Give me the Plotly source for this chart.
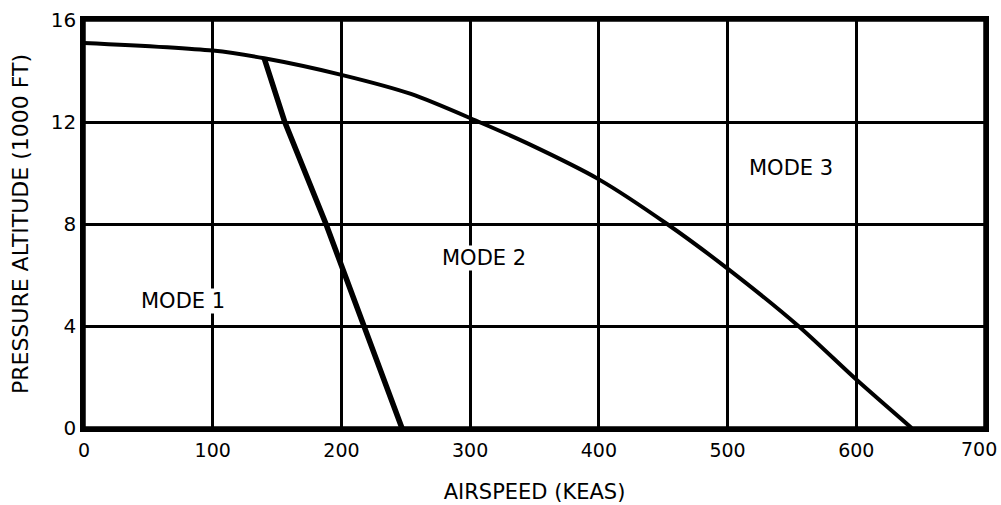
import plotly.graph_objects as go

# Mode 2/3 boundary (upper curve)
boundary23_speed = [0, 100, 140, 200, 254, 307, 345, 400, 453, 500, 555, 600, 643]
boundary23_alt = [15.1, 14.8, 14.5, 13.85, 13.1, 12.0, 11.15, 9.75, 8.0, 6.25, 4.0, 1.9, 0.0]

# Mode 1/2 boundary (steep line)
boundary12_speed = [140, 156, 188, 218, 247]
boundary12_alt = [14.5, 12.0, 8.0, 4.0, 0.0]

mode_labels = ["MODE 1", "MODE 2", "MODE 3"]
mode_x = [77, 311, 549]
mode_y = [5.0, 6.67, 10.2]

x_ticks = [0, 100, 200, 300, 400, 500, 600, 700]
y_ticks = [0, 4, 8, 12, 16]

font = "DejaVu Sans, Verdana, sans-serif"

fig = go.Figure()
fig.add_trace(go.Scatter(x=boundary23_speed, y=boundary23_alt, mode="lines",
                         line=dict(color="black", width=4, shape="spline", smoothing=0.8),
                         showlegend=False, hoverinfo="skip"))
fig.add_trace(go.Scatter(x=boundary12_speed, y=boundary12_alt, mode="lines",
                         line=dict(color="black", width=5.5, shape="linear"),
                         showlegend=False, hoverinfo="skip"))

for t, x, y in zip(mode_labels, mode_x, mode_y):
    fig.add_annotation(x=x, y=y, text=t, showarrow=False,
                       font=dict(family=font, size=21, color="black"),
                       bgcolor="white", borderpad=0)

# last x tick label sits flush with the right edge (as in the original)
x_ticktext = [str(v) for v in x_ticks[:-1]] + [""]
fig.add_annotation(x=x_ticks[-1], y=0, text=str(x_ticks[-1]), showarrow=False,
                   xanchor="right", yanchor="middle", xshift=14, yshift=-21,
                   font=dict(family=font, size=19, color="black"))

# plot frame
fig.add_shape(type="rect", xref="paper", yref="paper", x0=0, y0=0, x1=1, y1=1,
              line=dict(color="black", width=3.5), layer="above")

fig.update_xaxes(range=[0, 700], tickvals=x_ticks, ticktext=x_ticktext,
                 showgrid=True, gridcolor="black", gridwidth=2.5,
                 showline=True, linecolor="black", linewidth=3.5, mirror=True,
                 zeroline=False, ticks="", ticklen=0, ticklabelstandoff=2,
                 ticklabeloverflow="allow",
                 automargin=False,
                 tickfont=dict(family=font, size=19, color="black"),
                 title=dict(text="AIRSPEED (KEAS)", font=dict(family=font, size=21, color="black"),
                            standoff=26))
fig.update_yaxes(range=[0, 16], tickvals=y_ticks, ticktext=[str(v) for v in y_ticks],
                 showgrid=True, gridcolor="black", gridwidth=2.5,
                 showline=True, linecolor="black", linewidth=3.5, mirror=True,
                 zeroline=False, ticks="", ticklen=0, ticklabelstandoff=0,
                 ticklabeloverflow="allow",
                 automargin=False,
                 tickfont=dict(family=font, size=20, color="black"),
                 title=dict(text="PRESSURE ALTITUDE (1000 FT)", font=dict(family=font, size=22, color="black"),
                            standoff=17))

fig.update_layout(width=1001, height=505, paper_bgcolor="white", plot_bgcolor="white",
                  margin=dict(l=84, r=16, t=20, b=77), showlegend=False)

fig.write_html("out.html", config={"displayModeBar": False},
               post_script="document.body.style.margin='0';document.body.style.overflow='hidden';")
